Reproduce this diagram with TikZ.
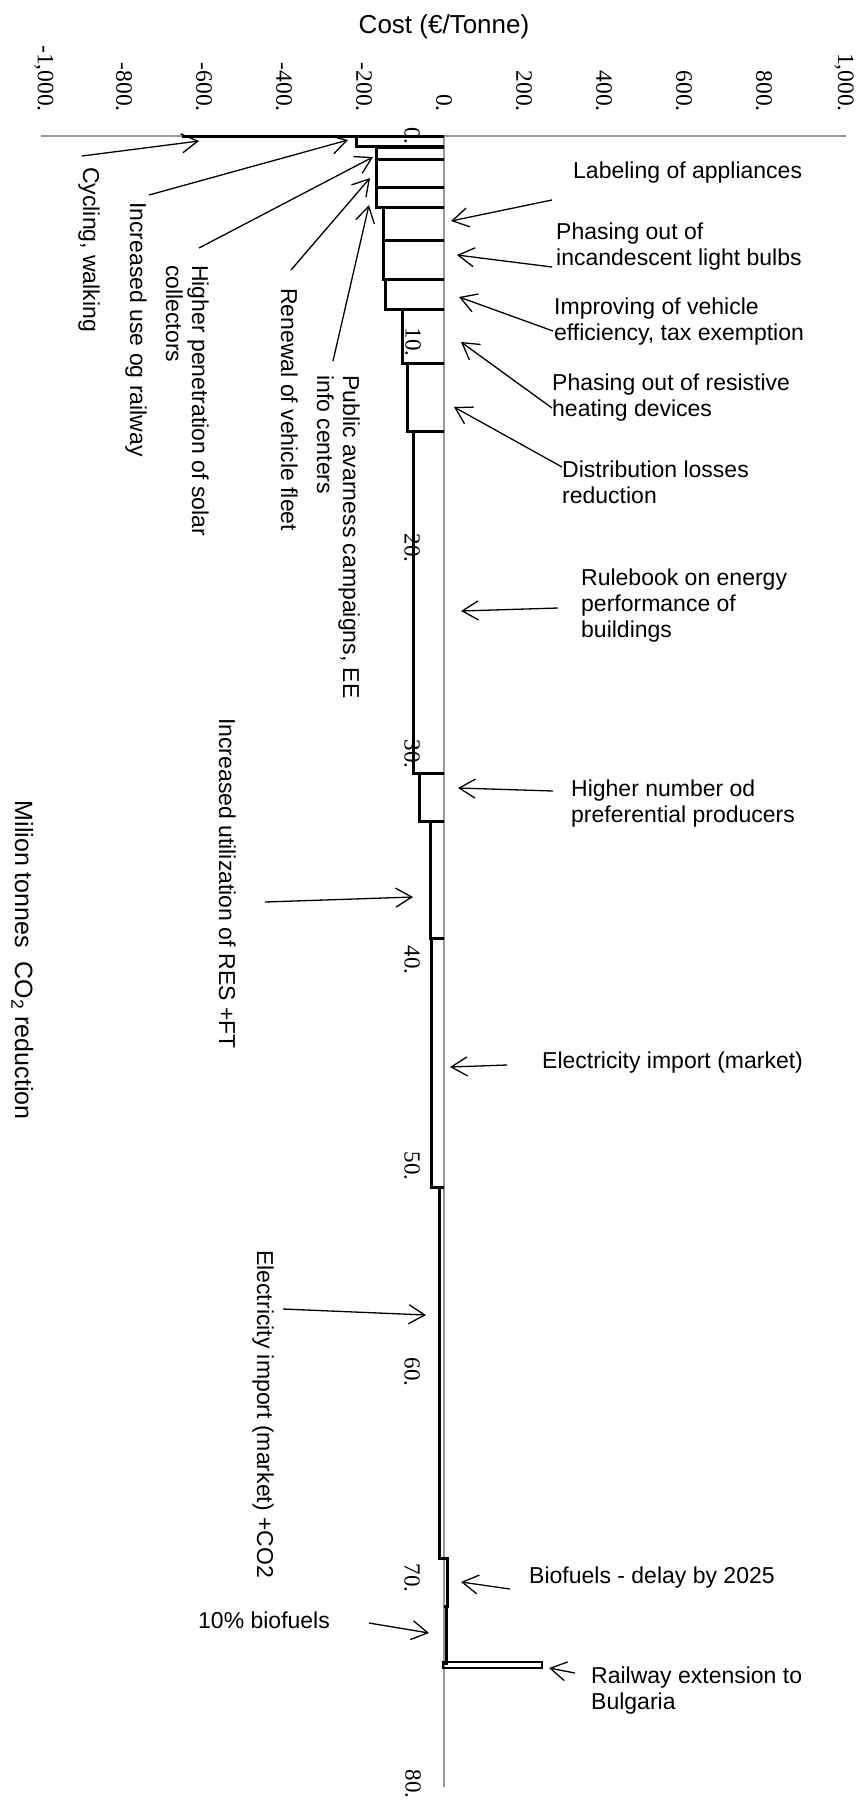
\documentclass[tikz,border=0pt]{standalone}
\usepackage{fontspec}
\setmainfont{Liberation Sans}
\newfontfamily\numfont{Liberation Serif}
\usepackage{tikz}
\usetikzlibrary{arrows.meta}

\begin{document}
\begin{tikzpicture}[x=1pt,y=-1pt,
		axis/.style={draw=black!40, line width=1.4pt},
		bar/.style={draw=black, line width=3pt},
		arr/.style={-{Straight Barb[length=16pt,width=19pt]}, line width=1.3pt},
		txt/.style={inner sep=0, align=left, font=\fontsize{23}{26}\selectfont},
		vtxt/.style={txt, rotate=-90, anchor=base west},
		htxt/.style={txt, anchor=base west},
		xtick/.style={inner sep=0, rotate=-90, anchor=east, font=\numfont\fontsize{23.5}{26}\selectfont},
		ytick/.style={inner sep=0, rotate=-90, font=\numfont\fontsize{23}{26}\selectfont}]
		\useasboundingbox (0,0) rectangle (861,1805);
		
		\node[inner sep=0, anchor=base, font=\fontsize{26}{30}\selectfont] (cost) at (444,33) {Cost (€/Tonne)};
		\node[txt, rotate=-90, anchor=base, font=\fontsize{25}{30}\selectfont] (mt) at (15,960) {Milion tonnes\ \ CO\textsubscript{2} reduction};
		
		\begin{scope}
		\node[xtick] (xm1000) at (44,112) {-1,000.};
		\node[xtick] (xm800) at (124,112) {-800.};
		\node[xtick] (xm600) at (204,112) {-600.};
		\node[xtick] (xm400) at (284,112) {-400.};
		\node[xtick] (xm200) at (364,112) {-200.};
		\node[xtick] (x0) at (444,112) {0.};
		\node[xtick] (x200) at (524,112) {200.};
		\node[xtick] (x400) at (604,112) {400.};
		\node[xtick] (x600) at (684,112) {600.};
		\node[xtick] (x800) at (764,112) {800.};
		\node[xtick] (x1000) at (844,112) {1,000.};
		\end{scope}
		
		\draw[axis] (41,136) -- (846,136);
		\draw[axis] (444,136) -- (444,1787);
		
		\draw[bar] (444,136) -- (182,136);
		\draw[bar] (444,136) -- (356,136) -- (356,146) -- (444,146);
		\draw[bar] (444,147) -- (376,147) -- (376,159) -- (444,159);
		\draw[bar] (444,159) -- (376,159) -- (376,187) -- (444,187);
		\draw[bar] (444,187) -- (376,187) -- (376,207) -- (444,207);
		\draw[bar] (444,207) -- (383,207) -- (383,240) -- (444,240);
		\draw[bar] (444,240) -- (383,240) -- (383,279) -- (444,279);
		\draw[bar] (444,279) -- (385,279) -- (385,309) -- (444,309);
		\draw[bar] (444,309) -- (402,309) -- (402,363) -- (444,363);
		\draw[bar] (444,363) -- (407,363) -- (407,431) -- (444,431);
		\draw[bar] (444,431) -- (413,431) -- (413,773) -- (444,773);
		\draw[bar] (444,773) -- (419,773) -- (419,821) -- (444,821);
		\draw[bar] (444,821) -- (430,821) -- (430,938) -- (444,938);
		\draw[bar] (444,938) -- (431,938) -- (431,1187) -- (444,1187);
		\draw[bar] (444,1187) -- (439,1187) -- (439,1558) -- (444,1558);
		\draw[bar] (444,1558) -- (447,1558) -- (447,1606) -- (444,1606);
		\draw[bar] (444,1606) -- (446,1606) -- (446,1663) -- (444,1663);
		\draw[bar, line width=2.4pt] (443,1662) rectangle (542,1668);
		
		\begin{scope}
		\node[ytick] (y0) at (412,136) {0.};
		\node[ytick] (y10) at (413,342) {10.};
		\node[ytick] (y20) at (412,548) {20.};
		\node[ytick] (y30) at (412,754) {30.};
		\node[ytick] (y40) at (412,960) {40.};
		\node[ytick] (y50) at (412,1166) {50.};
		\node[ytick] (y60) at (412,1372) {60.};
		\node[ytick] (y70) at (412,1578) {70.};
		\node[ytick] (y80) at (413,1784) {80.};
		\end{scope}
		
		\node[vtxt] (cyc) at (83,167) {Cycling, walking};
		\node[vtxt] (railuse) at (130,202) {Increased use og railway};
		\node[vtxt] (solar) at (166,265) {Higher penetration of solar\\collectors};
		\node[vtxt] (fleet) at (281,288) {Renewal of vehicle fleet};
		\node[vtxt] (public) at (317,375) {Public avarness campaigns, EE\\info centers};
		\node[vtxt] (res) at (219,718) {Increased utilization of RES +FT};
		\node[vtxt] (impco) at (257,1250) {Electricity import (market) +CO2};
		\node[htxt] (bio10) at (198,1628) {10\% biofuels};
		
		\node[htxt] (appl) at (573,178) {Labeling of appliances};
		\node[htxt] (bulbs) at (556,265) {Phasing out of\\incandescent light bulbs};
		\node[htxt] (vehic) at (554,340) {Improving of vehicle\\efficiency, tax exemption};
		\node[htxt] (heat) at (552,416) {Phasing out of resistive\\heating devices};
		\node[htxt] (distr) at (562,503) {Distribution losses\\reduction};
		\node[htxt] (rules) at (581,637) {Rulebook on energy\\performance of\\buildings};
		\node[htxt] (pref) at (571,822) {Higher number od\\preferential producers};
		\node[htxt] (imp) at (542,1068) {Electricity import (market)};
		\node[htxt] (biodel) at (529,1583) {Biofuels - delay by 2025};
		\node[htxt] (railbg) at (591,1709) {Railway extension to\\Bulgaria};
		
		\coordinate (cyc-t) at (82,156);
		\coordinate (cyc-h) at (199,141);
		\coordinate (railuse-t) at (149,195);
		\coordinate (railuse-h) at (348,140);
		\coordinate (solar-t) at (199,248);
		\coordinate (solar-h) at (373,157);
		\coordinate (fleet-t) at (291,270);
		\coordinate (fleet-h) at (370,178);
		\coordinate (public-t) at (333,361);
		\coordinate (public-h) at (369,205);
		\coordinate (res-t) at (265,902);
		\coordinate (res-h) at (413,897);
		\coordinate (impco-t) at (283,1309);
		\coordinate (impco-h) at (426,1315);
		\coordinate (bio10-t) at (369,1623);
		\coordinate (bio10-h) at (429,1633);
		\coordinate (appl-t) at (552,200);
		\coordinate (appl-h) at (451,221);
		\coordinate (bulbs-t) at (552,267);
		\coordinate (bulbs-h) at (457,255);
		\coordinate (vehic-t) at (553,331);
		\coordinate (vehic-h) at (459,297);
		\coordinate (heat-t) at (552,408);
		\coordinate (heat-h) at (461,342);
		\coordinate (distr-t) at (562,467);
		\coordinate (distr-h) at (454,407);
		\coordinate (rules-t) at (558,608);
		\coordinate (rules-h) at (461,611);
		\coordinate (pref-t) at (553,791);
		\coordinate (pref-h) at (458,788);
		\coordinate (imp-t) at (507,1065);
		\coordinate (imp-h) at (450,1067);
		\coordinate (biodel-t) at (510,1589);
		\coordinate (biodel-h) at (461,1582);
		\coordinate (railbg-t) at (575,1673);
		\coordinate (railbg-h) at (549,1668);
		
		\draw[arr] (cyc-t) -- (cyc-h);
		\draw[arr] (railuse-t) -- (railuse-h);
		\draw[arr] (solar-t) -- (solar-h);
		\draw[arr] (fleet-t) -- (fleet-h);
		\draw[arr] (public-t) -- (public-h);
		\draw[arr] (res-t) -- (res-h);
		\draw[arr] (impco-t) -- (impco-h);
		\draw[arr] (bio10-t) -- (bio10-h);
		\draw[arr] (appl-t) -- (appl-h);
		\draw[arr] (bulbs-t) -- (bulbs-h);
		\draw[arr] (vehic-t) -- (vehic-h);
		\draw[arr] (heat-t) -- (heat-h);
		\draw[arr] (distr-t) -- (distr-h);
		\draw[arr] (rules-t) -- (rules-h);
		\draw[arr] (pref-t) -- (pref-h);
		\draw[arr] (imp-t) -- (imp-h);
		\draw[arr] (biodel-t) -- (biodel-h);
		\draw[arr] (railbg-t) -- (railbg-h);
		
		\end{tikzpicture}
\end{document}
